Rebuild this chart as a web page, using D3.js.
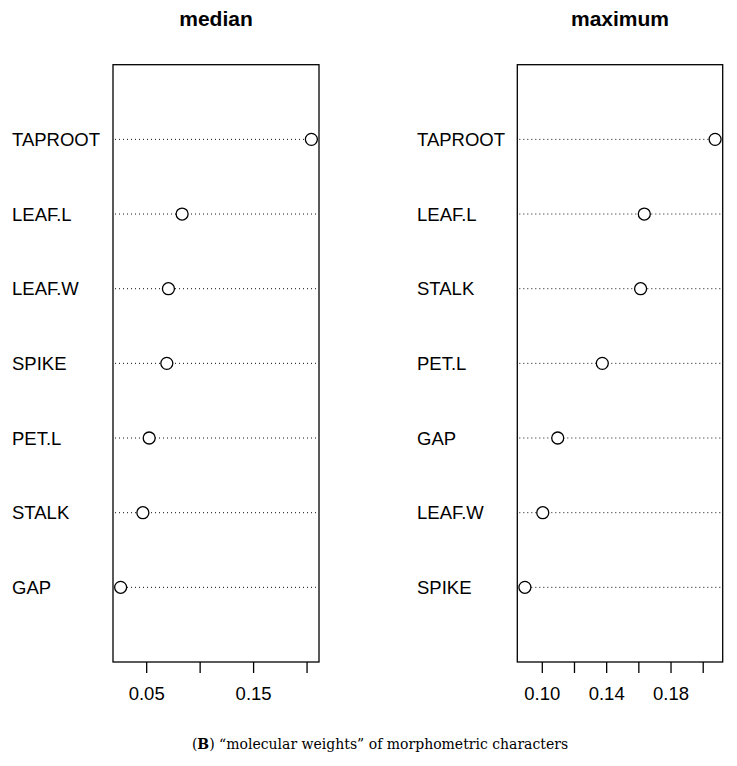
<!DOCTYPE html>
<html><head><meta charset="utf-8">
<script src="https://cdn.jsdelivr.net/npm/d3@7"></script>
<style>body{margin:0;background:#fff}svg{display:block}</style>
</head><body>
<script>
const medianLabels = ["TAPROOT","LEAF.L","LEAF.W","SPIKE","PET.L","STALK","GAP"];
const medianValues = [0.2045,0.0836,0.0708,0.0693,0.0528,0.0469,0.0261];
const medianTicks = [0.05,0.10,0.15,0.20];
const medianTickLabels = ["0.05","","0.15",""];

const maxLabels = ["TAPROOT","LEAF.L","STALK","PET.L","GAP","LEAF.W","SPIKE"];
const maxValues = [0.2077,0.1637,0.1614,0.1376,0.1099,0.1006,0.0895];
const maxTicks = [0.10,0.12,0.14,0.16,0.18,0.20];
const maxTickLabels = ["0.10","","0.14","","0.18",""];

const W=737,H=766;
const svg=d3.select("body").append("svg").attr("width",W).attr("height",H);
const plotTop=64.7,plotBottom=662;

function panel(title,labels,values,ticks,tickLabels,x0,x1,labelX){
  const g=svg.append("g");
  const ext=d3.extent(values);
  const pad=(ext[1]-ext[0])*0.04;
  const x=d3.scaleLinear().domain([ext[0]-pad,ext[1]+pad]).range([x0,x1]);
  const n=labels.length;
  const y=d3.scaleLinear().domain([0,n+1]).range([plotBottom,plotTop]);
  labels.forEach((lab,i)=>{
    const yy=y(n-i);
    g.append("line").attr("x1",x0+2).attr("x2",x1-1).attr("y1",yy).attr("y2",yy)
      .attr("stroke","#111").attr("stroke-width",1).attr("stroke-dasharray","1,3");
    g.append("text").attr("x",labelX).attr("y",yy).attr("dy","0.36em")
      .attr("font-family","Liberation Sans, Arial, sans-serif").attr("font-size",18.5)
      .attr("fill","#000").text(lab);
  });
  labels.forEach((lab,i)=>{
    g.append("circle").attr("cx",x(values[i])).attr("cy",y(n-i)).attr("r",6)
      .attr("fill","#fff").attr("stroke","#000").attr("stroke-width",1.3);
  });
  g.append("rect").attr("x",x0).attr("y",plotTop).attr("width",x1-x0).attr("height",plotBottom-plotTop)
    .attr("fill","none").attr("stroke","#000").attr("stroke-width",1.3);
  const ax=g.append("g").attr("transform",`translate(0,${plotBottom})`)
    .call(d3.axisBottom(x).tickValues(ticks).tickSize(11).tickPadding(14)
      .tickFormat((d,i)=>tickLabels[i]));
  ax.select(".domain").remove();
  ax.selectAll("line").attr("stroke","#000").attr("stroke-width",1.3);
  ax.selectAll("text").attr("font-family","Liberation Sans, Arial, sans-serif")
    .attr("font-size",18.5).attr("fill","#000");
  g.append("text").attr("x",(x0+x1)/2).attr("y",26).attr("text-anchor","middle")
    .attr("font-family","Liberation Sans, Arial, sans-serif").attr("font-weight","bold")
    .attr("font-size",21).text(title);
}
panel("median",medianLabels,medianValues,medianTicks,medianTickLabels,113,319,12);
panel("maximum",maxLabels,maxValues,maxTicks,maxTickLabels,517.3,722.7,417);

const cap=svg.append("text").attr("x",380).attr("y",749).attr("text-anchor","middle")
  .attr("font-family","DejaVu Serif, serif").attr("font-size",14).attr("fill","#000");
cap.append("tspan").text("(");
cap.append("tspan").attr("font-weight","bold").text("B");
cap.append("tspan").text(") \u201cmolecular weights\u201d of morphometric characters");
</script>
</body></html>
